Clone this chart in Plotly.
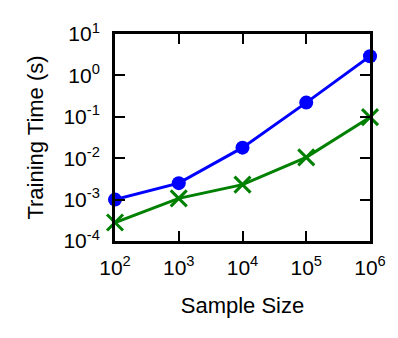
import plotly.graph_objects as go

sample_size = [1e2, 1e3, 1e4, 1e5, 1e6]
time_blue = [1.0e-3, 2.5e-3, 1.8e-2, 0.22, 2.9]
time_green = [2.8e-4, 1.07e-3, 2.3e-3, 1.05e-2, 0.098]

x_ticks = [1e2, 1e3, 1e4, 1e5, 1e6]
x_labels = ["10<sup>2</sup>", "10<sup>3</sup>", "10<sup>4</sup>", "10<sup>5</sup>", "10<sup>6</sup>"]
y_ticks = [1e-4, 1e-3, 1e-2, 1e-1, 1e0, 1e1]
y_labels = ["10<sup>-4</sup>", "10<sup>-3</sup>", "10<sup>-2</sup>", "10<sup>-1</sup>",
            "10<sup>0</sup>", "10<sup>1</sup>"]

fig = go.Figure()

fig.add_trace(go.Scatter(
    x=sample_size, y=time_blue, mode="lines+markers",
    line=dict(color="#0000ff", width=3),
    marker=dict(symbol="circle", size=14, color="#0000ff"),
    cliponaxis=False, showlegend=False,
))
fig.add_trace(go.Scatter(
    x=sample_size, y=time_green, mode="lines+markers",
    line=dict(color="#008000", width=3),
    marker=dict(symbol="x-thin-open", size=16, line=dict(color="#008000", width=3)),
    cliponaxis=False, showlegend=False,
))

axis_common = dict(
    type="log", showgrid=False, zeroline=False,
    showline=True, linecolor="black", linewidth=3, mirror="allticks",
    ticks="inside", ticklen=10, tickwidth=2, tickcolor="black",
    tickfont=dict(family="Arial", size=21, color="black"),
)

# page body has an 8px margin, so the figure is 8px smaller than the window
fig.update_layout(
    width=390, height=330,
    margin=dict(l=107, r=20, t=19, b=97),
    plot_bgcolor="white", paper_bgcolor="white",
    font=dict(family="Arial", size=22, color="black"),
    xaxis=dict(axis_common, range=[2, 6], tickvals=x_ticks, ticktext=x_labels,
               ticklabelstandoff=6,
               title=dict(text="Sample Size", font=dict(size=22), standoff=20)),
    yaxis=dict(axis_common, range=[-4, 1], tickvals=y_ticks, ticktext=y_labels,
               ticklabelstandoff=8,
               title=dict(text="Training Time (s)", font=dict(size=22), standoff=14)),
)

fig.write_html("out.html")
